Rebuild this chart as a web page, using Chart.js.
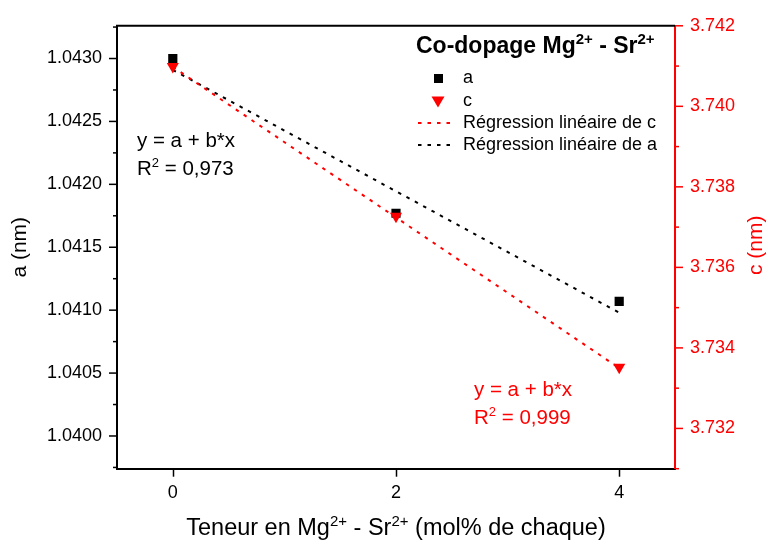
<!DOCTYPE html>
<html lang="fr">
<head>
  <meta charset="UTF-8" />
  <title>Co-dopage Mg - Sr</title>
  <script src="https://cdn.jsdelivr.net/npm/chart.js"></script>
  <style>
    html, body { margin: 0; padding: 0; background: #fff; }
    canvas { display: block; }
  </style>
</head>
<body>
  <canvas id="graphique" width="767" height="545"></canvas>

  <script>
    // valeurs
    var teneurs = [0, 2, 4];
    var valeursA = [1.04300, 1.04177, 1.04107];
    var valeursC = [3.74099, 3.73727, 3.73352];

    // droites de régression (extrémités)
    var xRegression = [0, 4];
    var regressionA = [1.04291, 1.04098];
    var regressionC = [3.74098, 3.73350];

    var ticksX = [0, 2, 4];
    var ticksA = [1.0400, 1.0405, 1.0410, 1.0415, 1.0420, 1.0425, 1.0430];
    var ticksAMineurs = [1.03975, 1.04025, 1.04075, 1.04125, 1.04175, 1.04225, 1.04275, 1.04325];
    var ticksC = [3.732, 3.734, 3.736, 3.738, 3.740, 3.742];
    var ticksCMineurs = [3.731, 3.733, 3.735, 3.737, 3.739, 3.741];

    var POLICE = '"Liberation Sans", Arial, sans-serif';
    var ROUGE = '#ff0000';

    function points(xs, ys) {
      var res = [];
      for (var i = 0; i < xs.length; i++) {
        res.push({ x: xs[i], y: ys[i] });
      }
      return res;
    }

    // texte avec exposants
    function texteRiche(ctx, morceaux, x, y, taille, couleur, gras, align) {
      var base = (gras ? 'bold ' : '') + taille + 'px ' + POLICE;
      var petit = (gras ? 'bold ' : '') + Math.round(taille * 0.65) + 'px ' + POLICE;
      var total = 0;
      for (var i = 0; i < morceaux.length; i++) {
        ctx.font = morceaux[i].sup ? petit : base;
        total += ctx.measureText(morceaux[i].t).width;
      }
      var cx = x;
      if (align === 'center') cx = x - total / 2;
      ctx.fillStyle = couleur;
      ctx.textAlign = 'left';
      ctx.textBaseline = 'alphabetic';
      for (var j = 0; j < morceaux.length; j++) {
        var m = morceaux[j];
        ctx.font = m.sup ? petit : base;
        ctx.fillText(m.t, cx, m.sup ? y - taille * 0.4 : y);
        cx += ctx.measureText(m.t).width;
      }
    }

    function titreVertical(ctx, texte, x, y, couleur) {
      ctx.save();
      ctx.translate(x, y);
      ctx.rotate(-Math.PI / 2);
      ctx.font = '21px ' + POLICE;
      ctx.fillStyle = couleur;
      ctx.textAlign = 'center';
      ctx.textBaseline = 'middle';
      ctx.fillText(texte, 0, 0);
      ctx.restore();
    }

    function pointillee(ctx, x1, y1, x2, y2, couleur) {
      ctx.save();
      ctx.strokeStyle = couleur;
      ctx.lineWidth = 2;
      ctx.setLineDash([3.5, 6]);
      ctx.beginPath();
      ctx.moveTo(x1, y1);
      ctx.lineTo(x2, y2);
      ctx.stroke();
      ctx.restore();
    }

    var habillage = {
      id: 'habillage',
      afterDraw: function(chart) {
        var ctx = chart.ctx;
        var zone = chart.chartArea;
        var sx = chart.scales.x;
        var sa = chart.scales.yA;
        var sc = chart.scales.yC;

        ctx.save();
        // cadre du haut
        ctx.strokeStyle = '#000';
        ctx.lineWidth = 2;
        ctx.beginPath();
        ctx.moveTo(zone.left - 1, zone.top);
        ctx.lineTo(zone.right, zone.top);
        ctx.stroke();

        // graduations
        ctx.lineWidth = 1.5;
        function trait(x1, y1, x2, y2, c) {
          ctx.strokeStyle = c;
          ctx.beginPath();
          ctx.moveTo(x1, y1);
          ctx.lineTo(x2, y2);
          ctx.stroke();
        }
        var i, p;
        for (i = 0; i < ticksX.length; i++) {
          p = Math.round(sx.getPixelForValue(ticksX[i])) + 0.5;
          trait(p, zone.bottom, p, zone.bottom + 8, '#000');
        }
        for (i = 0; i < ticksA.length; i++) {
          p = sa.getPixelForValue(ticksA[i]);
          trait(zone.left, p, zone.left - 8, p, '#000');
        }
        for (i = 0; i < ticksAMineurs.length; i++) {
          p = sa.getPixelForValue(ticksAMineurs[i]);
          trait(zone.left, p, zone.left - 4, p, '#000');
        }
        for (i = 0; i < ticksC.length; i++) {
          p = sc.getPixelForValue(ticksC[i]);
          trait(zone.right, p, zone.right + 8, p, ROUGE);
        }
        for (i = 0; i < ticksCMineurs.length; i++) {
          p = sc.getPixelForValue(ticksCMineurs[i]);
          trait(zone.right, p, zone.right + 4, p, ROUGE);
        }

        // titres des axes
        titreVertical(ctx, 'a (nm)', 20, (zone.top + zone.bottom) / 2, '#000');
        titreVertical(ctx, 'c (nm)', 756, (zone.top + zone.bottom) / 2 - 2, ROUGE);
        texteRiche(ctx, [
          { t: 'Teneur en Mg' }, { t: '2+', sup: true },
          { t: ' - Sr' }, { t: '2+', sup: true },
          { t: ' (mol% de chaque)' }
        ], (zone.left + zone.right) / 2, 535, 23.5, '#000', false, 'center');

        // légende
        texteRiche(ctx, [
          { t: 'Co-dopage Mg' }, { t: '2+', sup: true },
          { t: ' - Sr' }, { t: '2+', sup: true }
        ], 416, 53, 23, '#000', true, 'left');

        ctx.fillStyle = '#000';
        ctx.fillRect(434, 74, 9, 9);
        ctx.fillStyle = ROUGE;
        ctx.beginPath();
        ctx.moveTo(431.5, 96.5);
        ctx.lineTo(444.5, 96.5);
        ctx.lineTo(438, 107.5);
        ctx.closePath();
        ctx.fill();
        pointillee(ctx, 418, 123, 454, 123, ROUGE);
        pointillee(ctx, 418, 145, 454, 145, '#000');

        ctx.font = '18px ' + POLICE;
        ctx.fillStyle = '#000';
        ctx.textAlign = 'left';
        ctx.textBaseline = 'middle';
        ctx.fillText('a', 463, 78);
        ctx.fillText('c', 463, 101);
        ctx.fillText('Régression linéaire de c', 463, 123);
        ctx.fillText('Régression linéaire de a', 463, 145);

        // équations
        texteRiche(ctx, [{ t: 'y = a + b*x' }], 137, 147, 20.5, '#000', false, 'left');
        texteRiche(ctx, [{ t: 'R' }, { t: '2', sup: true }, { t: ' = 0,973' }], 137, 175, 20.5, '#000', false, 'left');
        texteRiche(ctx, [{ t: 'y = a + b*x' }], 474, 396, 20.5, ROUGE, false, 'left');
        texteRiche(ctx, [{ t: 'R' }, { t: '2', sup: true }, { t: ' = 0,999' }], 474, 424, 20.5, ROUGE, false, 'left');

        ctx.restore();
      }
    };

    new Chart(document.getElementById('graphique'), {
      type: 'scatter',
      data: {
        datasets: [{
          label: 'a',
          data: points(teneurs, valeursA),
          yAxisID: 'yA',
          pointStyle: 'rect',
          pointRadius: 6.5,
          backgroundColor: '#000',
          borderColor: '#000',
          borderWidth: 0,
          order: 2
        }, {
          label: 'c',
          data: points(teneurs, valeursC),
          yAxisID: 'yC',
          pointStyle: 'triangle',
          rotation: 180,
          pointRadius: 7,
          backgroundColor: ROUGE,
          borderColor: ROUGE,
          borderWidth: 0,
          order: 1
        }, {
          label: 'Régression linéaire de c',
          type: 'line',
          data: points(xRegression, regressionC),
          yAxisID: 'yC',
          borderColor: ROUGE,
          borderWidth: 2,
          borderDash: [3.5, 6],
          pointRadius: 0,
          fill: false,
          order: 3
        }, {
          label: 'Régression linéaire de a',
          type: 'line',
          data: points(xRegression, regressionA),
          yAxisID: 'yA',
          borderColor: '#000',
          borderWidth: 2,
          borderDash: [3.5, 6],
          pointRadius: 0,
          fill: false,
          order: 3
        }]
      },
      options: {
        responsive: false,
        animation: false,
        layout: { padding: { top: 18.5, left: 0, right: 0, bottom: 0 } },
        plugins: {
          legend: { display: false },
          tooltip: { enabled: false }
        },
        scales: {
          x: {
            type: 'linear',
            min: -0.5,
            max: 4.5,
            grid: { display: false, drawTicks: false },
            border: { display: true, color: '#000', width: 2 },
            afterBuildTicks: function(scale) {
              scale.ticks = ticksX.map(function(v) { return { value: v }; });
            },
            afterFit: function(scale) { scale.height = 76.3; },
            ticks: {
              autoSkip: false,
              maxRotation: 0,
              padding: 14,
              color: '#000',
              font: { family: POLICE, size: 18 },
              callback: function(v) { return String(v); }
            }
          },
          yA: {
            type: 'linear',
            position: 'left',
            min: 1.03974,
            max: 1.04326,
            grid: { display: false, drawTicks: false },
            border: { display: true, color: '#000', width: 2 },
            afterBuildTicks: function(scale) {
              scale.ticks = ticksA.map(function(v) { return { value: v }; });
            },
            afterFit: function(scale) { scale.width = 117; },
            ticks: {
              autoSkip: false,
              padding: 15,
              color: '#000',
              font: { family: POLICE, size: 18 },
              callback: function(v) { return Number(v).toFixed(4); }
            }
          },
          yC: {
            type: 'linear',
            position: 'right',
            min: 3.731,
            max: 3.742,
            grid: { display: false, drawTicks: false },
            border: { display: true, color: ROUGE, width: 2 },
            afterBuildTicks: function(scale) {
              scale.ticks = ticksC.map(function(v) { return { value: v }; });
            },
            afterFit: function(scale) { scale.width = 92; },
            ticks: {
              autoSkip: false,
              padding: 15,
              color: ROUGE,
              font: { family: POLICE, size: 18 },
              callback: function(v) { return Number(v).toFixed(3); }
            }
          }
        }
      },
      plugins: [habillage]
    });
  </script>
</body>
</html>
